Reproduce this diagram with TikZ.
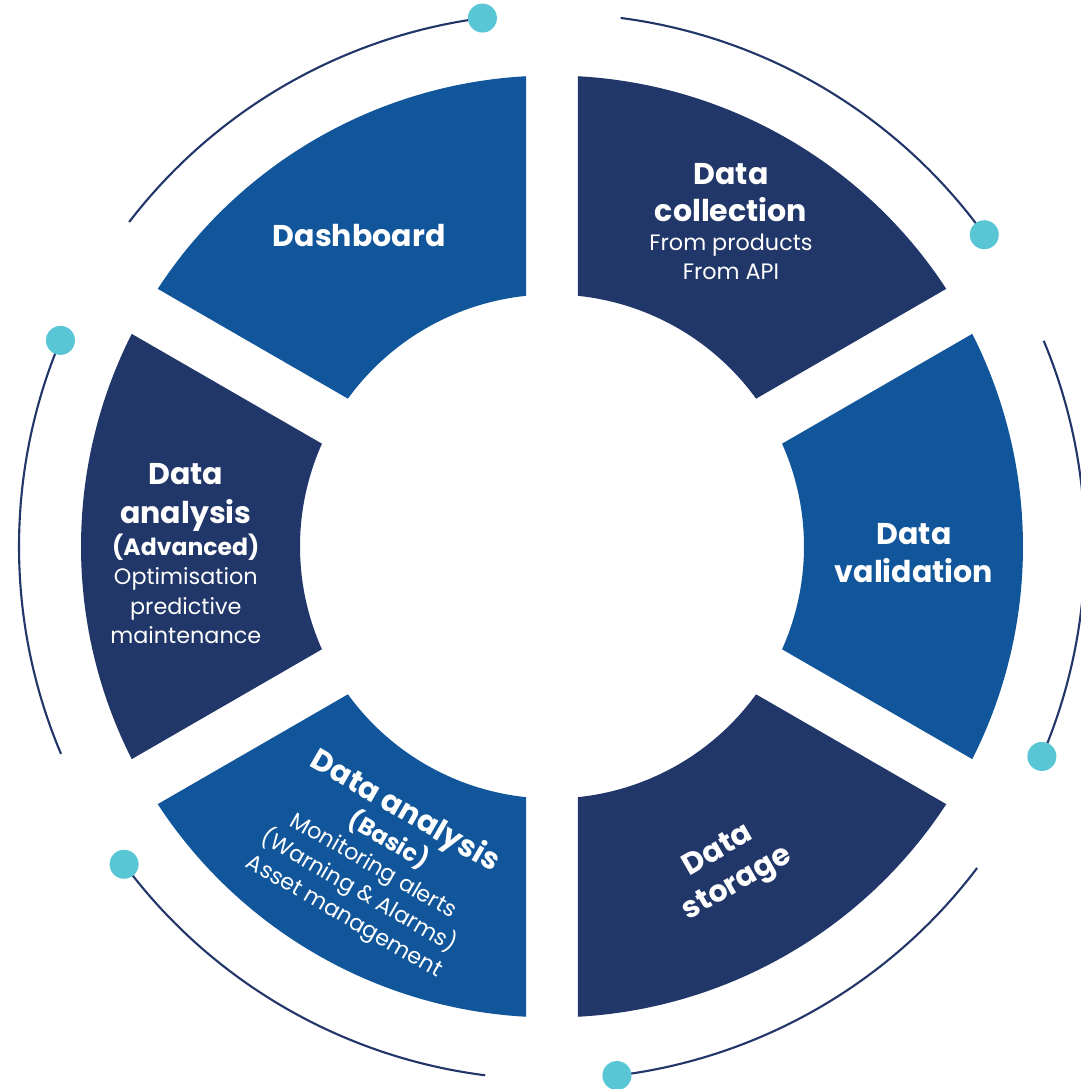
\documentclass[tikz,border=0pt]{standalone}
\usepackage{fontspec}
\setmainfont{Poppins}
\definecolor{navy}{HTML}{213769}
\definecolor{midblue}{HTML}{11559B}
\definecolor{cyandot}{HTML}{58C6D4}
\definecolor{arcline}{HTML}{22366A}
\tikzset{
  bigtxt/.style={text=white,font=\fontsize{8.55}{10}\selectfont\bfseries,anchor=base,inner sep=0pt},
  midtxt/.style={text=white,font=\fontsize{6.7}{8}\selectfont\bfseries,anchor=base,inner sep=0pt},
  smalltxt/.style={text=white,font=\fontsize{6.35}{8}\selectfont,anchor=base,inner sep=0pt},
  orbit/.style={draw=arcline,line width=0.6pt},
  orbitdot/.style={fill=cyandot}
}
\newcommand\ringseg[3]{%
  \fill[#1] ({#2+3.164}:4.71) arc[start angle={#2+3.164},end angle={#3-3.164},radius=4.71]
    -- ({#3-5.92}:2.52) arc[start angle={#3-5.92},end angle={#2+5.92},radius=2.52] -- cycle;}
\begin{document}
\begin{tikzpicture}
\useasboundingbox (-5.52,-5.425) rectangle (5.28,5.465);
\fill[white] (-5.52,-5.425) rectangle (5.28,5.465);
% ring segments
\ringseg{navy}{30}{90}
\ringseg{midblue}{90}{150}
\ringseg{navy}{150}{210}
\ringseg{midblue}{210}{270}
\ringseg{navy}{270}{330}
\ringseg{midblue}{-30}{30}
% orbit arcs with dots (dot angle / other end angle)
\foreach \a/\b in {97.5/142.5, 35.8/82.6, -23.2/22.7, -83/-37.1, -143.4/-97.2, 157.25/202.9}{
  \draw[orbit] (\a:5.33) arc[start angle=\a,end angle=\b,radius=5.33];
  \fill[orbitdot] (\a:5.33) circle (0.145);
}
% Data collection
\node[bigtxt] (dc1) at (1.79,3.622) {Data};
\node[bigtxt] (dc2) at (1.79,3.248) {collection};
\node[smalltxt] (dc3) at (1.79,2.955) {From products};
\node[smalltxt] (dc4) at (1.79,2.672) {From API};
% Dashboard
\node[bigtxt] (db1) at (-1.928,2.998) {Dashboard};
% Data validation
\node[bigtxt] (dv1) at (3.62,0.015) {Data};
\node[bigtxt] (dv2) at (3.62,-0.362) {validation};
% Data analysis (Advanced)
\node[bigtxt] (da1) at (-3.662,0.615) {Data};
\node[bigtxt] (da2) at (-3.662,0.225) {analysis};
\node[midtxt] (da3) at (-3.662,-0.095) {(Advanced)};
\node[smalltxt] (da4) at (-3.662,-0.385) {Optimisation};
\node[smalltxt] (da5) at (-3.662,-0.685) {predictive};
\node[smalltxt] (da6) at (-3.662,-0.968) {maintenance};
% Data storage
\begin{scope}[shift={(1.795,-3.2735)},rotate=30]
\node[bigtxt,rotate=30] (ds1) at (0,0.19) {Data};
\node[bigtxt,rotate=30] (ds2) at (0,-0.19) {storage};
\end{scope}
% Data analysis (Basic)
\begin{scope}[shift={(-1.772,-3.172)},rotate=-30]
\node[bigtxt,rotate=-30] (db2) at (0,0.515) {Data analysis};
\node[midtxt,rotate=-30] (db3) at (0,0.195) {(Basic)};
\node[smalltxt,rotate=-30] (db4) at (0,-0.095) {Monitoring alerts};
\node[smalltxt,rotate=-30] (db5) at (0,-0.385) {(Warning \& Alarms)};
\node[smalltxt,rotate=-30] (db6) at (0,-0.675) {Asset management};
\end{scope}
\end{tikzpicture}
\end{document}
